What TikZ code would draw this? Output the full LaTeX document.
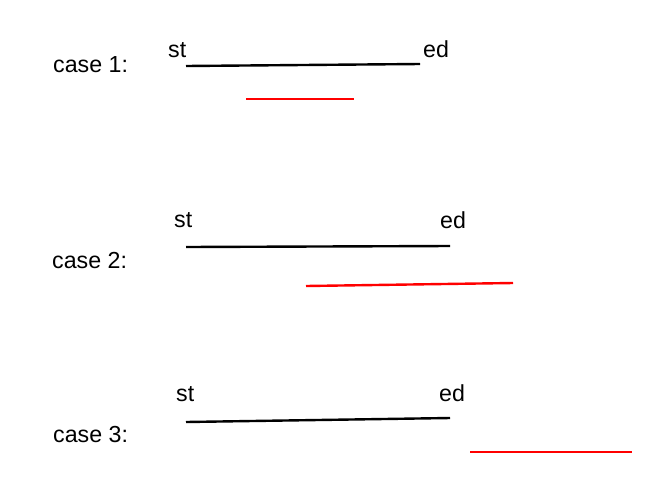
\documentclass[tikz,border=0pt]{standalone}
\usepackage{fontspec}
\setmainfont{Liberation Sans}
\begin{document}
\begin{tikzpicture}[x=1pt,y=-1pt,
  lbl/.style={anchor=base west,inner sep=0pt,font=\fontsize{23.2}{26}\selectfont},
  seg/.style={line width=2.4pt,black},
  redseg/.style={line width=2.4pt,red}]
\useasboundingbox[fill=white] (0,0) rectangle (655,477);
% case 1
\node[lbl] (c1) at (53,72) {case 1:};
\node[lbl] (st1) at (168,57) {st};
\node[lbl] (ed1) at (423,57) {ed};
\coordinate (a1) at (186,66); \coordinate (b1) at (420,64);
\coordinate (r1a) at (246,99); \coordinate (r1b) at (354,99);
\draw[seg] (a1) -- (b1);
\draw[redseg] (r1a) -- (r1b);
% case 2
\node[lbl] (c2) at (52,268) {case 2:};
\node[lbl] (st2) at (174,227) {st};
\node[lbl] (ed2) at (440,228) {ed};
\coordinate (a2) at (186,247); \coordinate (b2) at (450,246);
\coordinate (r2a) at (306,286); \coordinate (r2b) at (513,283);
\draw[seg] (a2) -- (b2);
\draw[redseg] (r2a) -- (r2b);
% case 3
\node[lbl] (c3) at (53,442) {case 3:};
\node[lbl] (st3) at (176,401) {st};
\node[lbl] (ed3) at (439,401) {ed};
\coordinate (a3) at (186,422); \coordinate (b3) at (450,418);
\coordinate (r3a) at (470,452); \coordinate (r3b) at (632,452);
\draw[seg] (a3) -- (b3);
\draw[redseg] (r3a) -- (r3b);
\end{tikzpicture}
\end{document}
